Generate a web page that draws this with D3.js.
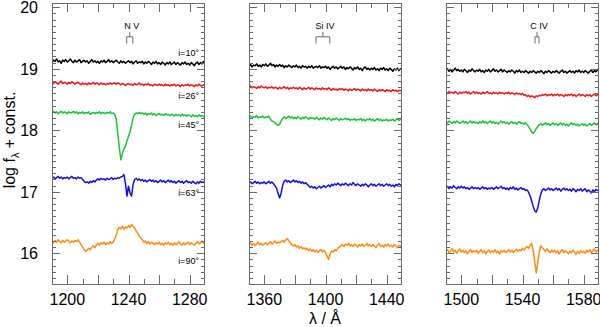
<!DOCTYPE html>
<html>
<head>
<meta charset="utf-8">
<script src="https://cdn.jsdelivr.net/npm/d3@7"></script>
<style>
body { margin: 0; background: #fff; }
svg { display: block; font-family: "Liberation Sans", Arial, sans-serif; }
.frame { fill: none; stroke: #6a6a6a; stroke-width: 1; }
.tk { stroke: #6a6a6a; stroke-width: 1; }
.spec { fill: none; stroke-width: 1.5; stroke-linejoin: round; }
.ion { fill: none; stroke: #6a6a6a; stroke-width: 1; }
</style>
</head>
<body>
<svg width="600" height="327"></svg>
<script>
// panels / axes
const ionNames = ['N V', 'Si IV', 'C IV'];
const waveStart = [1190, 1350, 1490];   // spectra sampled every 1 A from here
const waveSpan = 100;
const xTickLabels = [[1200, 1240, 1280], [1360, 1400, 1440], [1500, 1540, 1580]];
const doublets = [[1238.8, 1242.8], [1393.8, 1402.8], [1548.2, 1550.8]];
const yTickLabels = [16, 17, 18, 19, 20];
const inclinations = ['i=10°', 'i=26°', 'i=45°', 'i=63°', 'i=90°'];
const incLabelY = [19.26, 18.55, 18.09, 16.98, 15.87];
const colors = ['#000000', '#ea1a1a', '#1ec23c', '#1212dc', '#ff8c14'];

// log f + const, N V region (1190-1290)
const nv10 = [19.10,19.14,19.12,19.16,19.11,19.13,19.09,19.14,19.12,19.15,
  19.11,19.13,19.16,19.12,19.10,19.14,19.11,19.13,19.15,19.10,
  19.12,19.14,19.11,19.13,19.09,19.12,19.15,19.11,19.13,19.10,
  19.12,19.09,19.13,19.11,19.14,19.10,19.12,19.15,19.11,19.13,
  19.10,19.12,19.14,19.11,19.09,19.13,19.10,19.12,19.09,19.11,
  19.13,19.10,19.12,19.08,19.11,19.13,19.09,19.11,19.10,19.12,
  19.08,19.11,19.09,19.12,19.10,19.07,19.11,19.09,19.12,19.08,
  19.10,19.07,19.11,19.09,19.06,19.10,19.08,19.11,19.07,19.09,
  19.11,19.07,19.10,19.08,19.06,19.10,19.08,19.11,19.07,19.09,
  19.06,19.10,19.08,19.05,19.09,19.11,19.07,19.10,19.08,19.12,19.09];
const nv26 = [18.78,18.76,18.79,18.77,18.75,18.78,18.80,18.76,18.78,18.77,
  18.75,18.78,18.76,18.79,18.77,18.75,18.77,18.78,18.76,18.74,
  18.77,18.75,18.76,18.74,18.77,18.75,18.76,18.78,18.75,18.77,
  18.76,18.74,18.77,18.75,18.76,18.74,18.76,18.75,18.77,18.75,
  18.76,18.77,18.75,18.77,18.76,18.74,18.76,18.75,18.73,18.75,
  18.76,18.74,18.75,18.73,18.76,18.74,18.75,18.77,18.74,18.75,
  18.73,18.75,18.74,18.76,18.73,18.74,18.72,18.75,18.74,18.73,
  18.75,18.73,18.74,18.72,18.75,18.73,18.74,18.72,18.74,18.73,
  18.75,18.72,18.74,18.73,18.71,18.74,18.72,18.74,18.73,18.75,
  18.72,18.74,18.73,18.71,18.74,18.72,18.75,18.73,18.72,18.74,18.73];
const nv45 = [18.29,18.31,18.28,18.30,18.27,18.29,18.31,18.28,18.30,18.29,
  18.27,18.30,18.28,18.29,18.31,18.28,18.30,18.27,18.29,18.28,
  18.30,18.27,18.29,18.28,18.30,18.26,18.28,18.29,18.27,18.29,
  18.28,18.30,18.27,18.29,18.28,18.27,18.29,18.28,18.30,18.27,
  18.28,18.26,18.18,17.95,17.72,17.52,17.62,17.70,17.74,17.83,
  17.90,17.98,18.08,18.20,18.26,18.28,18.27,18.29,18.27,18.28,
  18.26,18.28,18.25,18.27,18.26,18.28,18.25,18.27,18.24,18.26,
  18.27,18.25,18.26,18.24,18.27,18.25,18.26,18.24,18.26,18.25,
  18.23,18.26,18.24,18.25,18.23,18.26,18.24,18.25,18.23,18.25,
  18.24,18.22,18.25,18.23,18.24,18.22,18.25,18.23,18.24,18.22,18.24];
const nv63 = [17.22,17.24,17.21,17.23,17.25,17.22,17.24,17.21,17.23,17.22,
  17.24,17.21,17.23,17.25,17.22,17.23,17.21,17.24,17.22,17.23,
  17.20,17.17,17.15,17.16,17.14,17.17,17.15,17.18,17.16,17.19,
  17.21,17.19,17.22,17.20,17.21,17.19,17.22,17.20,17.21,17.23,
  17.20,17.22,17.21,17.23,17.22,17.24,17.25,17.28,17.14,16.93,
  17.09,16.98,16.93,17.12,17.20,17.22,17.19,17.21,17.18,17.20,
  17.17,17.19,17.16,17.18,17.20,17.17,17.19,17.16,17.18,17.15,
  17.17,17.19,17.16,17.18,17.15,17.17,17.19,17.16,17.18,17.15,
  17.17,17.14,17.16,17.18,17.15,17.17,17.14,17.16,17.18,17.15,
  17.16,17.14,17.17,17.15,17.13,17.16,17.14,17.17,17.15,17.16,17.14];
const nv90 = [16.20,16.17,16.21,16.18,16.22,16.19,16.17,16.21,16.18,16.20,
  16.22,16.19,16.17,16.20,16.18,16.21,16.19,16.22,16.18,16.14,
  16.10,16.06,16.03,16.05,16.08,16.06,16.10,16.12,16.09,16.13,
  16.16,16.13,16.17,16.15,16.18,16.14,16.17,16.15,16.19,16.16,
  16.18,16.23,16.30,16.38,16.42,16.40,16.44,16.39,16.43,16.41,
  16.45,16.42,16.47,16.44,16.41,16.36,16.33,16.28,16.25,16.22,
  16.18,16.20,16.16,16.19,16.15,16.18,16.16,16.14,16.17,16.15,
  16.18,16.14,16.16,16.13,16.17,16.15,16.18,16.14,16.16,16.13,
  16.17,16.14,16.16,16.19,16.15,16.13,16.17,16.14,16.16,16.18,
  16.14,16.17,16.15,16.13,16.16,16.19,16.15,16.17,16.20,16.16,16.18];

// Si IV region (1350-1450)
const si10 = [19.04,19.07,19.03,19.06,19.05,19.08,19.04,19.06,19.03,19.07,
  19.05,19.08,19.04,19.06,19.09,19.05,19.07,19.03,19.06,19.04,
  19.07,19.04,19.06,19.02,19.05,19.03,19.06,19.04,19.02,19.05,
  19.03,19.06,19.02,19.04,19.01,19.05,19.03,19.04,19.01,19.04,
  19.02,19.05,19.01,19.03,19.04,19.02,19.05,19.01,19.03,19.02,
  19.04,19.01,19.03,18.99,19.02,19.04,19.01,19.03,19.00,19.02,
  19.04,19.01,19.03,18.99,19.02,19.00,19.03,19.01,18.98,19.02,
  19.00,19.03,18.99,19.01,18.97,19.01,19.03,18.99,19.01,18.98,
  19.01,18.99,19.02,18.98,19.00,18.97,19.01,18.99,19.02,18.98,
  19.00,18.97,19.01,18.99,18.96,19.00,18.98,19.01,18.97,19.00,18.98];
const si26 = [18.70,18.72,18.69,18.71,18.70,18.68,18.71,18.69,18.72,18.70,
  18.69,18.71,18.68,18.70,18.69,18.71,18.68,18.70,18.69,18.67,
  18.70,18.68,18.69,18.71,18.68,18.70,18.67,18.69,18.68,18.70,
  18.68,18.69,18.67,18.70,18.68,18.66,18.69,18.67,18.68,18.70,
  18.67,18.69,18.68,18.66,18.69,18.67,18.68,18.66,18.69,18.67,
  18.68,18.66,18.69,18.67,18.65,18.68,18.66,18.67,18.65,18.68,
  18.66,18.68,18.65,18.67,18.66,18.64,18.67,18.65,18.66,18.68,
  18.65,18.67,18.66,18.64,18.67,18.65,18.66,18.64,18.67,18.65,
  18.66,18.64,18.67,18.65,18.63,18.66,18.64,18.66,18.65,18.63,
  18.66,18.64,18.65,18.63,18.66,18.64,18.65,18.63,18.65,18.64,18.66];
const si45 = [18.21,18.23,18.20,18.22,18.21,18.24,18.20,18.22,18.21,18.23,
  18.20,18.22,18.21,18.23,18.18,18.15,18.14,18.12,18.10,18.08,
  18.10,18.15,18.19,18.22,18.19,18.21,18.23,18.20,18.22,18.19,
  18.21,18.19,18.22,18.20,18.18,18.21,18.19,18.22,18.20,18.18,
  18.21,18.19,18.20,18.18,18.21,18.19,18.17,18.20,18.18,18.21,
  18.19,18.17,18.20,18.18,18.16,18.19,18.17,18.20,18.18,18.16,
  18.19,18.17,18.18,18.20,18.17,18.19,18.16,18.18,18.17,18.19,
  18.16,18.18,18.17,18.19,18.16,18.18,18.15,18.18,18.17,18.19,
  18.16,18.18,18.15,18.17,18.19,18.16,18.18,18.15,18.17,18.16,
  18.18,18.15,18.17,18.16,18.18,18.15,18.17,18.19,18.16,18.18,18.17];
const si63 = [17.14,17.16,17.13,17.15,17.17,17.14,17.16,17.13,17.15,17.14,
  17.16,17.13,17.15,17.17,17.14,17.16,17.13,17.10,17.06,16.97,
  16.90,16.98,17.10,17.17,17.19,17.16,17.18,17.15,17.17,17.19,
  17.16,17.18,17.15,17.17,17.14,17.16,17.13,17.15,17.12,17.10,
  17.07,17.09,17.06,17.08,17.05,17.07,17.09,17.06,17.08,17.10,
  17.07,17.09,17.11,17.08,17.12,17.10,17.13,17.11,17.14,17.12,
  17.10,17.13,17.11,17.14,17.12,17.10,17.13,17.11,17.15,17.12,
  17.10,17.13,17.11,17.09,17.12,17.10,17.13,17.11,17.08,17.11,
  17.13,17.10,17.12,17.09,17.11,17.13,17.10,17.12,17.09,17.11,
  17.13,17.10,17.12,17.09,17.11,17.08,17.12,17.10,17.13,17.11,17.10];
const si90 = [16.14,16.17,16.13,16.16,16.12,16.15,16.18,16.14,16.16,16.13,
  16.15,16.17,16.14,16.16,16.19,16.15,16.17,16.20,16.16,16.18,
  16.17,16.19,16.21,16.18,16.22,16.24,16.20,16.17,16.14,16.12,
  16.14,16.10,16.12,16.08,16.11,16.07,16.09,16.06,16.08,16.04,
  16.07,16.03,16.06,16.02,16.05,16.01,16.04,16.06,16.02,16.05,
  16.01,15.96,15.90,15.98,16.04,16.02,16.06,16.04,16.08,16.10,
  16.12,16.14,16.11,16.15,16.13,16.16,16.12,16.14,16.11,16.15,
  16.13,16.10,16.14,16.12,16.15,16.11,16.13,16.16,16.12,16.14,
  16.11,16.14,16.12,16.09,16.13,16.16,16.11,16.13,16.10,16.14,
  16.12,16.15,16.11,16.13,16.10,16.14,16.12,16.09,16.13,16.11,16.14];

// C IV region (1490-1590)
const c10 = [18.97,19.00,18.96,18.99,18.95,18.98,19.01,18.97,18.99,18.96,
  18.98,18.95,18.99,18.97,18.94,18.98,18.96,19.00,18.97,18.95,
  18.98,18.96,18.99,18.95,18.97,18.94,18.98,18.96,18.99,18.95,
  18.97,19.00,18.96,18.98,18.95,18.97,18.99,18.95,18.98,18.96,
  18.94,18.97,18.95,18.98,18.96,18.93,18.97,18.95,18.98,18.94,
  18.96,18.94,18.97,18.95,18.93,18.96,18.94,18.97,18.95,18.93,
  18.96,18.94,18.97,18.95,18.92,18.96,18.94,18.97,18.95,18.93,
  18.96,18.94,18.97,18.95,18.93,18.96,18.98,18.94,18.96,18.93,
  18.95,18.97,18.94,18.96,18.93,18.97,18.95,18.98,18.94,18.96,
  18.94,18.97,18.95,18.93,18.96,18.98,18.94,18.97,18.95,18.99,18.96];
const c26 = [18.62,18.60,18.63,18.61,18.62,18.60,18.63,18.61,18.59,18.62,
  18.60,18.62,18.61,18.63,18.60,18.62,18.59,18.61,18.63,18.60,
  18.62,18.60,18.61,18.59,18.62,18.60,18.61,18.63,18.60,18.61,
  18.59,18.62,18.60,18.61,18.59,18.62,18.60,18.61,18.59,18.61,
  18.60,18.62,18.59,18.61,18.60,18.58,18.61,18.59,18.60,18.58,
  18.60,18.57,18.58,18.55,18.57,18.54,18.56,18.55,18.53,18.56,
  18.55,18.57,18.56,18.58,18.57,18.59,18.56,18.58,18.57,18.59,
  18.56,18.58,18.57,18.59,18.56,18.58,18.57,18.55,18.58,18.56,
  18.58,18.57,18.59,18.56,18.58,18.55,18.57,18.59,18.56,18.58,
  18.57,18.55,18.58,18.56,18.58,18.55,18.57,18.59,18.56,18.58,18.57];
const c45 = [18.14,18.12,18.15,18.13,18.11,18.14,18.12,18.15,18.13,18.11,
  18.13,18.15,18.12,18.14,18.11,18.13,18.15,18.12,18.14,18.12,
  18.13,18.11,18.14,18.12,18.15,18.12,18.14,18.11,18.13,18.15,
  18.12,18.14,18.11,18.13,18.10,18.13,18.15,18.12,18.14,18.11,
  18.13,18.10,18.12,18.14,18.11,18.13,18.10,18.12,18.14,18.11,
  18.12,18.10,18.12,18.09,18.06,18.02,17.97,17.95,17.98,18.03,
  18.06,18.09,18.11,18.08,18.10,18.12,18.09,18.11,18.08,18.10,
  18.12,18.09,18.11,18.08,18.10,18.12,18.09,18.11,18.08,18.10,
  18.07,18.10,18.12,18.09,18.11,18.08,18.10,18.07,18.09,18.11,
  18.08,18.10,18.07,18.09,18.11,18.08,18.10,18.12,18.09,18.11,18.10];
const c63 = [17.07,17.09,17.05,17.08,17.06,17.10,17.07,17.05,17.08,17.06,
  17.09,17.06,17.08,17.05,17.07,17.04,17.06,17.08,17.05,17.07,
  17.05,17.07,17.04,17.06,17.08,17.05,17.07,17.04,17.06,17.05,
  17.07,17.04,17.06,17.08,17.05,17.07,17.09,17.05,17.07,17.04,
  17.06,17.03,17.07,17.05,17.08,17.04,17.06,17.03,17.05,17.07,
  17.04,17.05,17.02,17.03,16.99,16.93,16.85,16.76,16.69,16.67,
  16.74,16.86,16.97,17.03,17.05,17.02,17.04,17.06,17.03,17.05,
  17.02,17.04,17.06,17.03,17.05,17.01,17.04,17.06,17.03,17.05,
  17.02,17.04,17.01,17.05,17.03,17.00,17.04,17.02,17.05,17.01,
  17.03,17.05,17.00,17.03,17.01,16.98,17.03,17.00,17.04,17.02,17.03];
const c90 = [16.03,16.06,16.01,16.04,16.08,16.02,16.05,16.00,16.04,16.07,
  16.02,16.05,16.01,16.04,15.99,16.03,16.06,16.01,16.04,16.02,
  16.05,16.00,16.03,16.06,16.01,16.04,15.99,16.03,16.05,16.01,
  16.04,16.02,16.06,16.01,16.03,15.99,16.04,16.02,16.05,16.01,
  16.03,16.06,16.02,16.05,16.01,16.04,16.07,16.03,16.06,16.04,
  16.08,16.05,16.09,16.11,16.08,16.13,16.16,16.05,15.86,15.68,
  15.85,16.02,16.12,16.09,16.06,16.03,16.07,16.04,16.01,16.05,
  16.02,16.05,16.01,16.04,15.99,16.03,16.06,16.01,16.04,16.02,
  15.99,16.03,16.01,16.05,16.02,15.98,16.03,16.00,16.04,16.01,
  16.03,16.00,16.05,16.02,16.06,16.01,16.04,16.07,16.02,16.05,16.03];

const spectra = [
  [nv10, nv26, nv45, nv63, nv90],
  [si10, si26, si45, si63, si90],
  [c10, c26, c45, c63, c90]
];

const svg = d3.select('svg');

const panelLeft = [52, 249, 446];
const panelW = 153;
const plotTop = 3, plotBottom = 284;

const y = d3.scaleLinear().domain([15.5, 20.07]).range([plotBottom, plotTop]);

spectra.forEach((panelSpectra, p) => {
  const x = d3.scaleLinear()
    .domain([waveStart[p], waveStart[p] + waveSpan])
    .range([panelLeft[p], panelLeft[p] + panelW]);

  const g = svg.append('g');

  svg.append('clipPath').attr('id', 'clip' + p)
    .append('rect')
    .attr('x', x.range()[0]).attr('y', plotTop)
    .attr('width', panelW).attr('height', plotBottom - plotTop);

  const line = d3.line()
    .x((d, i) => x(waveStart[p] + i))
    .y(d => y(d));

  g.append('g').attr('clip-path', 'url(#clip' + p + ')')
    .selectAll('path').data(panelSpectra)
    .enter().append('path')
      .attr('class', 'spec')
      .attr('stroke', (d, i) => colors[i])
      .attr('d', line);

  // frame + ticks
  g.append('rect').attr('class', 'frame')
    .attr('x', x.range()[0] + 0.5).attr('y', plotTop + 0.5)
    .attr('width', panelW - 1).attr('height', plotBottom - plotTop);

  const xt = d3.range(waveStart[p] + 10, waveStart[p] + waveSpan, 10);
  xt.forEach(w => {
    const len = (w % 20 === 0) ? 9 : 5;
    const px = Math.round(x(w)) + 0.5;
    g.append('line').attr('class', 'tk')
      .attr('x1', px).attr('x2', px).attr('y1', plotBottom).attr('y2', plotBottom - len);
    g.append('line').attr('class', 'tk')
      .attr('x1', px).attr('x2', px).attr('y1', plotTop).attr('y2', plotTop + len);
  });

  const yTicks = d3.range(156, 201, 1).map(v => v / 10);
  yTicks.forEach(v => {
    const len = (Math.abs(v - Math.round(v)) < 1e-6) ? 8 : 4;
    const py = Math.round(y(v)) + 0.5;
    g.append('line').attr('class', 'tk')
      .attr('x1', x.range()[0]).attr('x2', x.range()[0] + len).attr('y1', py).attr('y2', py);
    g.append('line').attr('class', 'tk')
      .attr('x1', x.range()[1]).attr('x2', x.range()[1] - len).attr('y1', py).attr('y2', py);
  });

  g.selectAll('text.xl').data(xTickLabels[p])
    .enter().append('text')
      .attr('class', 'xl')
      .attr('x', d => x(d))
      .attr('y', 305)
      .attr('text-anchor', 'middle')
      .attr('font-size', 16)
      .text(d => d);

  // ion doublet marker
  const [w1, w2] = doublets[p];
  const xm = (x(w1) + x(w2)) / 2;
  g.append('path').attr('class', 'ion')
    .attr('d', `M${xm},${y(19.6)}V${y(19.52)}M${x(w1)},${y(19.41)}V${y(19.52)}H${x(w2)}V${y(19.41)}`);
  g.append('text')
    .attr('x', xm + 2).attr('y', y(19.65))
    .attr('text-anchor', 'middle')
    .attr('font-size', 9)
    .text(ionNames[p]);
});

// y tick labels (left panel only)
svg.selectAll('text.yl').data(yTickLabels)
  .enter().append('text')
    .attr('class', 'yl')
    .attr('x', 38)
    .attr('y', d => y(d) + 6)
    .attr('text-anchor', 'end')
    .attr('font-size', 16)
    .text(d => d);

// inclination labels
svg.selectAll('text.inc').data(inclinations)
  .enter().append('text')
    .attr('class', 'inc')
    .attr('x', 199)
    .attr('y', (d, i) => y(incLabelY[i]) + 3)
    .attr('text-anchor', 'end')
    .attr('font-size', 9)
    .text(d => d);

// axis titles
const yTitle = svg.append('text')
  .attr('transform', 'translate(15,140) rotate(-90)')
  .attr('text-anchor', 'middle')
  .attr('font-size', 16);
yTitle.append('tspan').text('log f');
yTitle.append('tspan').attr('font-size', 11).attr('dy', 4).text('λ');
yTitle.append('tspan').attr('dy', -4).text(' + const.');

svg.append('text')
  .attr('x', 325).attr('y', 324)
  .attr('text-anchor', 'middle')
  .attr('font-size', 16)
  .text('λ / Å');
</script>
</body>
</html>
